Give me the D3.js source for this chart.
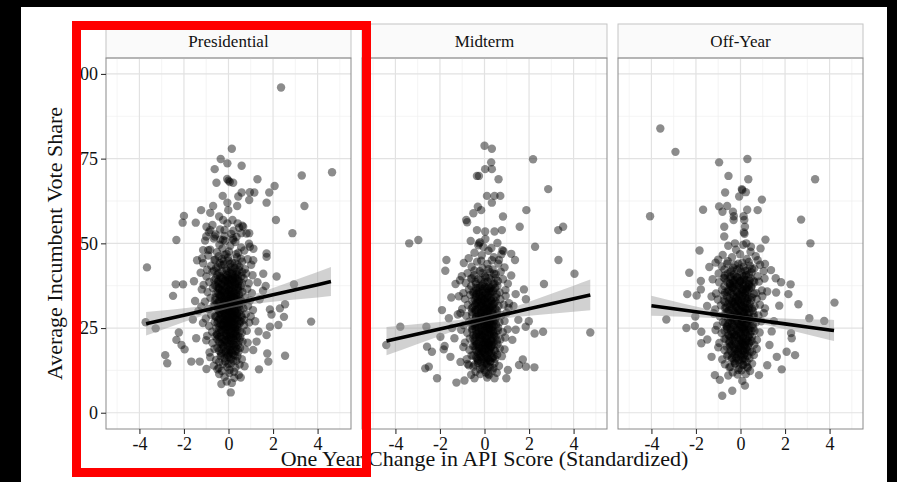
<!DOCTYPE html>
<html>
<head>
<meta charset="utf-8">
<script src="https://cdnjs.cloudflare.com/ajax/libs/d3/7.8.5/d3.min.js"></script>
<style>
body { margin: 0; background: #000; }
svg { display: block; }
text { font-family: "Liberation Serif", "Times New Roman", serif; fill: #111; }
</style>
</head>
<body>
<svg class="scene"></svg>
<script>

//
// data
//

var facets = ["Presidential", "Midterm", "Off-Year"];
var xTicks = [-4, -2, 0, 2, 4];
var xMinor = [-5, -3, -1, 1, 3, 5];
var yTicks = [0, 25, 50, 75, 100];
var yMinor = [12.5, 37.5, 62.5, 87.5];
var xTitle = "One Year Change in API Score (Standardized)";
var yTitle = "Average Incumbent Vote Share";

// [change in API, vote share]
var presPoints = [
    [2.36,96.0],[0.15,77.9],[-0.35,74.9],[-0.05,73.6],[0.59,72.9],[-0.62,71.9],[3.29,70.0],[4.65,71.0],[0.0,68.5],[-0.06,69.0],
    [0.06,68.1],[-0.54,67.9],[0.21,67.9],[1.3,68.9],[2.07,66.9],[1.83,65.0],[0.59,65.0],[0.96,65.1],[1.16,65.0],[0.93,62.8],
    [0.44,63.8],[-0.26,64.0],[1.71,62.0],[3.41,61.0],[-0.05,62.0],[0.39,61.0],[-1.23,59.8],[-0.69,61.0],[-0.82,59.0],[-0.01,59.8],
    [-2.0,58.1],[-0.42,57.9],[-0.24,56.9],[0.18,56.9],[2.13,56.9],[-2.06,56.1],[-1.47,56.1],[-0.99,54.9],[0.41,55.9],[0.66,54.9],
    [-0.18,53.9],[0.57,53.0],[0.93,53.0],[-0.82,53.9],[2.87,53.0],[-1.0,52.0],[-2.34,51.0],[-0.62,52.0],[-0.24,51.0],[0.21,51.0],
    [0.96,49.0],[-1.14,48.0],[-0.91,48.0],[1.71,47.0],[1.71,46.0],[-1.41,45.0],[1.11,45.0],[-3.66,42.9],[-1.14,44.1],[2.16,40.2],
    [1.56,41.0],[-2.37,37.9],[-2.04,37.9],[-2.49,34.5],[2.94,37.9],[1.67,37.4],[-3.72,26.7],[-3.27,24.9],[3.71,26.9],[-2.23,23.7],
    [-2.34,21.5],[-2.11,20.0],[-1.97,18.7],[-2.84,17.0],[-2.75,14.6],[-1.67,15.1],[-1.29,15.1],[-0.99,12.9],[2.54,16.8],[1.79,15.1],
    [1.74,17.5],[1.37,12.8],[0.55,10.4],[-0.32,8.5],[0.1,6.0],[2.31,30.8],[2.54,32.0],[2.49,28.3],[2.24,25.9],[1.86,25.4],
    [1.71,22.9],[1.93,29.0],[1.86,30.5],[1.26,21.0],[1.11,18.5],[1.4,33.5],[1.2,27.0],[1.35,24.0],[-1.5,33.0],[-1.6,27.5],
    [-1.45,22.0],[1.55,36.0],[1.3,38.5],[-1.55,38.8],[-1.35,30.0],
    [-0.72,55.4],[-0.38,54.1],[-0.05,55.9],[0.22,53.7],[0.48,54.6],[0.81,52.9],[-0.58,52.6],[-0.18,52.2],[0.12,52.8],[0.36,51.9],
    [-0.88,53.3],[0.62,55.2],[-1.05,50.8],[-0.66,51.4],[-0.41,49.6],[-0.15,50.7],[0.08,49.3],[0.31,50.4],[0.57,48.8],[0.92,49.9],
    [-0.82,48.1],[-0.52,47.4],[-0.27,48.5],[0.02,47.6],[0.19,51.5],[0.44,47.2],[0.71,47.9],[-0.09,46.9],[1.12,48.4],[-0.36,51.1],
    [-1.18,45.6],[-0.91,46.4],[-0.63,45.1],[-0.44,46.2],[-0.22,44.7],[-0.02,45.8],[0.16,44.3],[0.38,45.9],[0.61,44.6],[0.86,45.3],
    [-0.78,43.4],[-0.55,42.8],[-0.31,43.6],[-0.11,42.5],[0.07,43.9],[0.27,42.7],[0.49,43.1],[0.74,42.4],[1.02,43.7],[-0.96,42.2],
    [-0.18,46.6],[0.33,46.8],[0.12,42.1],[-0.4,44.1],
    [-1.25,41.3],[-0.99,40.2],[-0.72,41.6],[-0.5,40.7],[-0.3,41.8],[-0.13,40.1],[0.04,41.4],[0.21,40.5],[0.39,41.7],[0.58,40.3],
    [0.79,41.1],[1.08,40.6],[-0.86,38.6],[-0.64,39.2],[-0.43,38.1],[-0.24,39.5],[-0.06,38.4],[0.13,39.3],[0.3,37.9],[0.47,38.8],
    [0.68,39.6],[0.91,38.2],[-1.12,37.7],[-0.54,37.3],[-0.17,37.6],[0.06,37.1],[0.24,38.6],[0.55,37.4],[-0.35,39.9],[0.36,40.9],
    [-0.02,39.8],
    [-1.2,36.4],[-0.94,35.6],[-0.7,36.8],[-0.48,35.2],[-0.28,36.3],[-0.1,35.5],[0.08,36.6],[0.26,35.1],[0.43,36.2],[0.62,35.7],
    [0.84,36.5],[1.05,35.3],[-0.81,33.9],[-0.6,33.2],[-0.39,34.3],[-0.2,33.5],[-0.01,34.6],[0.17,33.3],[0.35,34.4],[0.53,33.6],
    [0.74,34.1],[0.97,33.2],[-1.06,32.8],[-0.5,32.4],[-0.13,32.2],[0.05,32.9],[0.28,32.5],[0.46,32.1],[-0.3,35.9],[0.14,34.9],
    [-0.42,36.9],[0.66,32.6],
    [-1.22,31.4],[-0.9,30.6],[-0.66,31.7],[-0.45,30.2],[-0.25,31.3],[-0.07,30.4],[0.11,31.6],[0.29,30.1],[0.47,31.2],[0.67,30.8],
    [0.88,31.5],[1.1,30.3],[-0.78,28.9],[-0.56,28.3],[-0.35,29.4],[-0.16,28.6],[0.02,29.7],[0.2,28.2],[0.38,29.3],[0.57,28.7],
    [0.78,29.1],[1.0,28.4],[-1.02,27.8],[-0.47,27.3],[-0.1,27.5],[0.09,27.2],[0.31,27.7],[0.5,27.1],[-0.28,30.9],[0.16,30.0],
    [-0.04,28.1],[0.7,27.4],
    [-1.15,26.5],[-0.87,25.6],[-0.62,26.8],[-0.41,25.3],[-0.22,26.4],[-0.05,25.5],[0.13,26.7],[0.31,25.2],[0.49,26.3],[0.7,25.8],
    [0.93,26.6],[-0.74,23.9],[-0.52,23.2],[-0.32,24.4],[-0.13,23.5],[0.04,24.6],[0.22,23.3],[0.4,24.5],[0.6,23.6],[0.82,24.2],
    [-0.96,22.7],[-0.43,22.3],[-0.08,22.5],[0.12,22.1],[0.34,22.8],[0.53,22.2],[-0.25,25.9],[0.19,25.0],[-0.6,22.6],[0.0,26.2],
    [-1.0,21.4],[-0.72,20.6],[-0.5,21.7],[-0.3,20.2],[-0.12,21.3],[0.06,20.4],[0.24,21.5],[0.43,20.1],[0.63,21.0],[0.86,20.7],
    [-0.63,18.9],[-0.42,18.3],[-0.22,19.4],[-0.04,18.6],[0.14,19.6],[0.32,18.2],[0.52,19.1],[0.74,18.7],[-0.85,17.8],[-0.33,17.3],
    [0.02,17.5],[0.22,17.1],[0.44,17.9],[-0.18,20.9],[0.1,18.0],
    [-0.82,16.4],[-0.56,15.6],[-0.35,16.7],[-0.15,15.2],[0.03,16.3],[0.21,15.4],[0.4,16.6],[0.6,15.8],[-0.66,13.9],[-0.44,13.2],
    [-0.24,14.4],[-0.06,13.5],[0.12,14.6],[0.31,13.3],[0.5,14.2],[0.72,13.7],[-0.3,12.3],[0.05,12.6],[0.25,12.1],[-0.5,12.8],
    [-0.42,11.4],[-0.18,10.6],[0.04,11.7],[0.26,10.3],[0.46,11.1],[-0.08,9.2],[0.15,8.8],
    [-0.6,45.2],[-0.3,45.4],[0.0,44.9],[0.28,44.1],[0.55,45.5],[-0.47,43.0],[-0.2,43.8],[0.1,42.9],[0.4,43.7],[-0.65,41.9],
    [-0.08,41.9],[0.19,41.7],[0.47,42.2],[-0.38,40.4],[-0.05,40.6],[0.3,40.0],[0.62,41.5],[-0.57,39.6],[-0.14,39.0],[0.2,39.7],
    [0.42,39.4],[0.01,39.2],[-0.48,38.6],[-0.29,38.0],[0.08,38.1],[0.35,38.4],[0.6,38.3],[-0.62,37.6],[-0.08,37.2],[0.18,37.6],
    [0.44,37.0],[-0.4,36.4],[-0.18,36.0],[0.02,36.2],[0.22,36.4],[0.5,36.0],[-0.56,35.3],[-0.05,35.0],[0.33,35.2],[-0.35,34.6],
    [-0.12,34.1],[0.07,34.3],[0.26,34.0],[0.47,34.7],[-0.58,34.0],[-0.27,33.3],[0.11,33.6],[0.4,33.1],[-0.44,32.9],[-0.2,32.6],
    [0.0,32.1],[0.2,32.4],[0.58,32.8],[-0.6,31.9],[-0.33,31.6],[0.05,31.3],[0.36,31.7],[-0.15,31.0],[0.15,30.7],[-0.5,30.6],
    [0.54,30.4],[-0.25,30.0],[0.0,30.1],[0.3,29.8],[-0.42,29.3],[-0.1,29.0],[0.12,29.2],[0.45,29.5],[-0.6,28.5],[-0.24,28.0],
    [0.06,28.4],[0.27,28.6],[0.6,28.2],[-0.38,27.6],[-0.16,27.1],[0.18,27.0],[0.38,27.4],[-0.5,26.5],[-0.02,26.7],[0.25,26.2],
    [0.56,26.9],[-0.3,25.9],[-0.1,25.2],[0.08,25.6],[0.4,25.4],[-0.55,25.0],[-0.2,24.6],[0.15,24.3],[0.3,24.9],[-0.38,23.7],
    [-0.02,23.9],[0.28,23.5],[0.5,24.0],[-0.5,22.9],[-0.17,22.8],[0.06,23.0],[0.42,22.6],[-0.28,21.8],[0.0,21.6],[0.2,22.0],
    [0.5,21.4],[-0.42,20.9],[-0.06,20.7],[0.32,20.6],[-0.25,19.8],[0.05,19.5],[0.26,19.9],[-0.5,19.2],[0.4,18.8],[-0.12,18.2],
    [0.18,18.5],[-0.32,17.6],[-0.02,17.0],[0.28,16.9],[-0.18,16.1],[0.1,15.8],[-0.42,15.0],[0.35,15.3],[0.0,14.4],
    [-0.44,41.2],[-0.12,40.8],[0.16,41.0],[0.44,40.6],[-0.3,39.7],[0.05,39.5],[0.33,39.8],[-0.45,38.9],[-0.15,38.7],[0.18,38.9],
    [0.42,38.0],[-0.32,37.8],[-0.02,37.9],[0.28,37.3],[-0.45,36.7],[-0.12,36.8],[0.14,36.0],[0.38,36.6],[-0.28,35.5],[0.05,35.7],
    [0.24,35.5],[-0.42,34.9],[-0.18,34.6],[0.1,34.8],[0.36,34.1],[-0.3,33.9],[-0.03,33.5],[0.22,33.9],[0.44,33.4],[-0.4,32.8],
    [-0.1,32.9],[0.14,32.6],[0.32,32.2],[-0.24,32.0],[0.04,31.7],[0.25,31.4],[-0.44,31.2],[-0.1,30.6],[0.36,30.7],[-0.3,30.4],
    [0.08,30.2],[0.2,29.4],[-0.2,29.6],[-0.4,29.9],[0.02,29.1],[0.38,28.9],[-0.32,28.6],[-0.08,28.4],[0.16,28.0],[0.42,28.1],
    [-0.42,27.8],[-0.22,27.5],[0.02,27.2],[0.25,27.6],[-0.1,26.5],[0.12,26.4],[0.38,26.0],[-0.36,26.2],[-0.2,25.5],[0.0,25.3],
    [0.22,25.7],[-0.42,24.4],[-0.08,24.5],[0.32,24.1],[-0.28,23.9],[0.1,23.7],[-0.1,23.0],[0.22,22.7],[-0.35,22.4],[0.04,22.3],
    [0.36,21.9],[-0.16,21.5],[0.12,21.2],[-0.38,20.5],[0.2,20.3],[-0.04,19.9],[0.34,19.4],[-0.3,18.8],[0.06,18.6],[-0.14,17.8],
    [0.16,17.6],[-0.06,16.5]
];

var midPoints = [
    [0.0,78.8],[0.33,77.9],[0.3,73.9],[0.03,71.9],[0.33,71.9],[-0.34,69.9],[-0.25,69.9],[0.63,68.9],[2.18,74.8],[2.86,66.0],
    [0.11,64.0],[0.45,64.0],[0.71,64.0],[0.33,62.0],[1.88,59.8],[-0.3,60.8],[-0.15,59.8],[-0.5,58.9],[0.83,57.9],[-0.82,56.9],
    [-0.78,56.2],[1.58,54.9],[3.31,53.9],[3.53,54.9],[-3.38,50.0],[-2.97,51.0],[-0.34,53.9],[0.78,53.9],[0.03,53.5],[0.45,53.5],
    [-1.71,45.1],[0.65,45.1],[1.37,45.1],[3.32,45.1],[2.27,49.0],[1.2,46.9],[0.8,48.0],[0.85,47.7],[-0.25,50.0],[-0.2,50.3],
    [-1.76,41.9],[4.04,41.0],[2.67,38.0],[1.77,36.4],[1.4,35.0],[1.86,33.5],[-1.49,34.0],[-1.91,30.3],[-3.78,25.4],[-4.41,20.0],
    [-2.61,25.4],[4.75,23.7],[2.63,23.9],[2.25,23.4],[1.85,25.4],[1.99,27.0],[1.52,27.4],[-1.6,27.9],[-1.98,22.4],[-1.46,25.0],
    [-2.58,19.5],[-2.36,18.0],[-1.83,18.7],[-1.79,19.7],[-1.53,16.5],[-2.66,13.1],[-2.5,13.6],[-2.13,10.2],[-1.26,8.9],[-1.08,15.0],
    [-0.7,14.0],[-0.45,10.2],[0.2,11.1],[0.45,10.2],[0.98,10.2],[1.05,12.6],[1.55,14.1],[1.86,13.6],[2.24,13.4],[1.72,15.7],
    [1.1,32.3],[1.3,31.5],[-1.3,38.0],[-1.2,29.0],[1.25,21.5],[1.4,24.5],[-1.35,22.0],[1.2,40.5],[-0.9,9.5],
    [-0.62,50.7],[-0.28,49.4],[0.04,51.3],[0.31,48.6],[0.58,50.1],[-0.45,47.2],[-0.12,46.5],[0.18,47.8],[0.42,45.9],[-0.71,45.6],
    [0.76,46.8],[-0.05,48.9],
    [-0.93,44.2],[-0.58,43.1],[-0.33,44.6],[-0.09,42.7],[0.13,43.9],[0.37,42.3],[0.62,44.0],[0.9,42.9],[-0.76,41.2],[-0.46,40.6],
    [-0.21,41.8],[0.02,40.4],[0.24,41.5],[0.5,40.9],[0.73,41.6],[-1.02,40.3],[-0.15,44.9],[0.33,45.0],
    [-1.1,39.1],[-0.84,38.3],[-0.6,39.6],[-0.38,38.0],[-0.17,39.3],[0.0,38.5],[0.2,39.8],[0.39,37.9],[0.6,38.9],[0.83,39.4],
    [1.05,38.1],[-0.7,36.4],[-0.49,35.7],[-0.27,36.9],[-0.07,35.4],[0.11,36.6],[0.29,35.8],[0.48,36.8],[0.68,35.5],[0.94,36.2],
    [-0.95,35.3],[-0.36,35.1],[0.19,37.3],[-0.12,37.5],
    [-1.15,34.4],[-0.88,33.6],[-0.64,34.8],[-0.43,33.2],[-0.23,34.3],[-0.05,33.4],[0.14,34.7],[0.32,33.0],[0.51,34.1],[0.71,33.5],
    [0.95,34.5],[-0.75,31.8],[-0.53,31.1],[-0.32,32.3],[-0.13,31.4],[0.06,32.5],[0.24,31.2],[0.43,32.2],[0.63,31.5],[0.86,31.9],
    [-1.0,30.6],[-0.41,30.3],[-0.03,30.5],[0.17,30.1],[0.37,30.8],[0.56,30.2],[-0.2,32.9],[0.27,33.8],[1.08,30.9],
    [-1.08,29.4],[-0.82,28.6],[-0.57,29.7],[-0.37,28.2],[-0.18,29.3],[0.01,28.4],[0.19,29.6],[0.37,28.1],[0.56,29.2],[0.76,28.8],
    [0.99,29.5],[-0.69,26.9],[-0.47,26.3],[-0.27,27.4],[-0.09,26.6],[0.1,27.7],[0.28,26.2],[0.47,27.3],[0.67,26.7],[0.9,27.1],
    [-0.93,25.8],[-0.36,25.3],[0.02,25.5],[0.21,25.2],[0.41,25.7],[0.61,25.1],[-0.13,28.9],[0.33,27.9],[-0.55,25.6],[0.13,26.0],
    [-0.01,27.0],
    [-1.05,24.5],[-0.78,23.6],[-0.54,24.8],[-0.33,23.3],[-0.14,24.4],[0.04,23.5],[0.22,24.7],[0.41,23.2],[0.6,24.3],[0.82,23.8],
    [1.04,24.6],[-0.66,21.9],[-0.44,21.2],[-0.24,22.4],[-0.06,21.5],[0.13,22.6],[0.31,21.3],[0.5,22.5],[0.71,21.6],[0.93,22.2],
    [-0.88,20.7],[-0.34,20.3],[0.0,20.5],[0.19,20.1],[0.39,20.8],[0.58,20.2],[-0.17,23.0],[0.26,23.9],[-0.5,22.9],[0.08,21.0],
    [-0.95,19.4],[-0.68,18.6],[-0.45,19.7],[-0.25,18.2],[-0.06,19.3],[0.12,18.4],[0.3,19.6],[0.49,18.1],[0.69,19.0],[0.9,18.7],
    [-0.58,16.9],[-0.37,16.3],[-0.17,17.4],[0.01,16.6],[0.19,17.6],[0.37,16.2],[0.57,17.1],[0.78,16.7],[-0.8,15.8],[-0.27,15.3],
    [0.07,15.5],[0.27,15.1],[0.47,15.9],[-0.12,18.9],
    [-0.76,14.4],[-0.5,13.6],[-0.3,14.7],[-0.1,13.2],[0.08,14.3],[0.26,13.4],[0.45,14.6],[0.65,13.8],[-0.4,12.1],[-0.19,11.4],
    [0.0,12.6],[0.17,11.5],[0.36,12.4],[0.55,11.8],[-0.6,11.2],[0.12,10.4],
    [-0.45,42.0],[-0.1,41.2],[0.18,42.4],[0.42,41.0],[-0.55,39.7],[-0.28,39.5],[0.05,39.9],[0.3,39.2],[0.5,39.8],[-0.4,38.6],
    [-0.06,38.0],[0.15,38.7],[0.45,38.1],[-0.6,37.4],[-0.2,37.0],[0.04,37.2],[0.28,36.9],[0.58,37.5],[-0.36,36.2],[-0.1,36.0],
    [0.2,36.1],[0.4,35.9],[-0.5,35.3],[-0.22,34.9],[0.02,34.8],[0.22,35.2],[0.55,35.0],[-0.38,34.1],[-0.12,33.8],[0.1,33.9],
    [0.4,33.6],[-0.55,33.0],[-0.28,32.7],[0.0,32.9],[0.18,32.6],[0.5,32.8],[-0.42,31.8],[-0.17,31.6],[0.08,31.9],[0.32,31.4],
    [-0.58,30.8],[-0.3,30.6],[-0.05,30.9],[0.22,30.4],[0.5,30.6],[-0.4,29.7],[-0.14,29.5],[0.12,29.9],[0.38,29.3],[-0.55,28.8],
    [-0.25,28.5],[0.02,28.7],[0.25,28.2],[0.55,28.4],[-0.4,27.6],[-0.13,27.3],[0.16,27.5],[0.4,27.0],[-0.58,26.6],[-0.3,26.4],
    [-0.02,26.1],[0.22,26.6],[0.52,26.0],[-0.43,25.4],[-0.17,25.1],[0.1,25.0],[0.35,25.3],[-0.55,24.3],[-0.24,24.0],[0.0,24.2],
    [0.3,24.4],[0.5,23.7],[-0.38,23.0],[-0.1,22.8],[0.2,23.1],[0.42,22.7],[-0.5,22.0],[-0.2,21.7],[0.06,21.9],[0.3,21.6],
    [0.56,21.3],[-0.36,20.8],[-0.08,20.4],[0.18,20.7],[0.42,20.2],[-0.52,19.7],[-0.25,19.5],[0.03,19.8],[0.28,19.3],[-0.4,18.6],
    [-0.1,18.3],[0.2,18.5],[0.45,18.4],[-0.28,17.5],[0.02,17.2],[0.3,17.6],[-0.5,16.9],[-0.15,16.4],[0.14,16.1],[0.42,16.7],
    [-0.3,15.4],[0.0,14.8],[0.25,15.2],[-0.45,14.2],[-0.1,13.8],[0.18,13.5],[0.4,13.2],[-0.2,12.8],[0.05,11.9],
    [-0.38,36.8],[-0.08,36.5],[0.24,36.7],[-0.25,35.6],[0.06,35.4],[0.36,35.7],[-0.4,34.6],[-0.12,34.4],[0.18,34.2],[-0.28,33.5],
    [0.02,33.3],[0.3,33.2],[-0.38,32.4],[-0.1,32.2],[0.14,32.1],[0.38,32.0],[-0.24,31.3],[0.0,31.1],[0.22,31.0],[-0.4,30.4],
    [-0.14,30.2],[0.1,30.5],[0.34,30.0],[-0.28,29.2],[-0.02,29.3],[0.24,29.0],[-0.38,28.2],[-0.12,28.0],[0.12,28.3],[0.38,27.8],
    [-0.25,27.0],[0.0,27.4],[0.22,27.1],[-0.4,26.2],[-0.12,26.0],[0.1,26.4],[0.34,26.0],[-0.28,25.2],[-0.02,25.0],[0.22,24.9],
    [-0.38,24.3],[-0.1,24.0],[0.14,23.8],[0.38,24.0],[-0.25,23.1],[0.02,22.8],[0.26,22.9],[-0.4,22.2],[-0.12,22.0],[0.12,21.8],
    [0.36,21.9],[-0.25,21.0],[0.0,20.9],[0.22,20.6],[-0.38,20.0],[-0.1,19.8],[0.16,19.6],[0.34,19.9],[-0.22,19.0],[0.04,18.8],
    [0.26,18.7],[-0.34,18.0],[-0.06,17.8],[0.18,17.9],[-0.2,16.8],[0.08,16.9],[0.32,16.3],[-0.32,15.9],[-0.04,15.9],[0.2,15.6],
    [-0.14,14.9],[0.1,14.6]
];

var offPoints = [
    [-3.6,83.9],[-2.92,77.0],[-0.96,73.9],[0.31,74.9],[-0.54,69.9],[0.35,68.9],[3.35,68.9],[-0.69,65.0],[0.06,66.0],[0.24,65.1],
    [-0.06,63.8],[0.08,65.7],[0.96,62.9],[-1.68,59.9],[-0.96,60.9],[-0.6,61.0],[-0.81,59.3],[-0.34,59.3],[0.3,59.9],[0.77,59.8],
    [-0.3,58.0],[0.14,58.0],[-4.06,58.0],[2.72,57.0],[-0.73,54.9],[0.17,56.9],[-0.31,56.9],[0.2,54.9],[0.15,53.2],[0.18,52.8],
    [-0.73,52.0],[1.12,51.1],[3.14,50.0],[-1.84,47.9],[-0.25,50.0],[0.47,49.0],[0.26,50.0],[-2.3,41.3],[-1.78,38.9],[-2.39,35.0],
    [-3.33,27.5],[-2.43,25.0],[-2.05,25.6],[-1.76,23.9],[-1.76,20.5],[-1.49,21.6],[-2.03,28.4],[-1.15,11.1],[-0.82,5.0],[-0.37,6.5],
    [0.08,9.4],[0.2,8.0],[-0.93,9.7],[0.83,11.1],[1.85,12.8],[2.45,17.0],[2.07,18.0],[1.63,16.5],[2.3,22.0],[2.27,23.5],
    [2.6,32.0],[3.09,27.9],[3.76,27.1],[4.22,32.5],[2.25,37.9],[2.15,35.0],[1.82,38.5],[1.74,31.6],[1.37,42.1],[1.1,43.9],
    [0.77,45.0],[1.58,39.7],[-1.78,36.4],[-1.97,34.6],[1.5,27.0],[1.4,24.0],[1.3,20.0],[-1.5,31.5],[-1.4,43.0],[1.2,14.0],
    [-1.3,16.5],[1.6,35.5],
    [-0.55,49.3],[-0.2,48.1],[0.12,49.6],[0.45,47.5],[-0.8,46.6],[-0.38,45.9],[-0.02,46.8],[0.28,45.4],[0.68,46.2],[0.9,48.5],
    [-1.0,45.2],
    [-1.12,44.3],[-0.84,43.2],[-0.57,44.7],[-0.33,42.8],[-0.1,44.0],[0.14,43.1],[0.37,44.5],[0.62,42.6],[0.88,43.7],[-0.98,41.1],
    [-0.7,40.5],[-0.45,41.6],[-0.22,40.2],[0.02,41.7],[0.25,40.7],[0.5,41.4],[0.77,40.3],[1.04,41.8],[-0.15,42.3],[0.3,42.0],
    [-1.25,39.4],[-0.96,38.5],[-0.7,39.7],[-0.47,38.2],[-0.25,39.2],[-0.05,38.3],[0.16,39.5],[0.37,38.0],[0.59,39.0],[0.83,38.7],
    [1.08,39.6],[-0.83,36.3],[-0.59,35.6],[-0.36,36.8],[-0.15,35.4],[0.05,36.5],[0.26,35.9],[0.48,36.9],[0.71,35.3],[0.96,36.1],
    [-1.1,35.2],[-0.46,37.4],[0.13,37.2],[-0.26,37.9],[1.2,35.8],
    [-1.3,34.3],[-1.02,33.4],[-0.76,34.7],[-0.52,33.1],[-0.3,34.2],[-0.1,33.3],[0.1,34.6],[0.3,33.0],[0.51,34.0],[0.73,33.6],
    [0.98,34.4],[-0.88,31.7],[-0.64,31.0],[-0.41,32.2],[-0.2,31.3],[0.0,32.4],[0.2,31.1],[0.41,32.1],[0.63,31.4],[0.87,31.9],
    [-1.14,30.5],[-0.52,30.2],[-0.08,30.4],[0.12,30.0],[0.33,30.7],[0.55,30.1],[-0.25,32.8],[0.22,33.8],[1.1,30.8],[-0.7,32.6],
    [0.04,31.6],
    [-1.2,29.3],[-0.93,28.5],[-0.67,29.6],[-0.44,28.1],[-0.22,29.2],[-0.02,28.3],[0.18,29.5],[0.38,28.0],[0.59,29.1],[0.8,28.7],
    [1.05,29.4],[-0.79,26.8],[-0.55,26.2],[-0.33,27.3],[-0.13,26.5],[0.07,27.6],[0.27,26.1],[0.47,27.2],[0.69,26.6],[0.93,27.0],
    [-1.05,25.7],[-0.42,25.2],[-0.04,25.4],[0.16,25.1],[0.36,25.6],[0.57,25.0],[-0.18,28.8],[0.28,27.8],[-0.62,25.5],[0.02,26.9],
    [-1.12,24.4],[-0.85,23.5],[-0.6,24.7],[-0.38,23.2],[-0.17,24.3],[0.02,23.4],[0.22,24.6],[0.42,23.1],[0.63,24.2],[0.86,23.7],
    [-0.72,21.8],[-0.49,21.1],[-0.28,22.3],[-0.08,21.4],[0.11,22.5],[0.31,21.2],[0.52,22.4],[0.74,21.5],[-0.95,20.6],[-0.37,20.2],
    [0.0,20.4],[0.2,20.0],[0.41,20.7],[0.62,20.1],[-0.2,22.9],[0.25,23.8],[-0.52,22.8],[0.07,21.0],
    [-1.0,19.3],[-0.72,18.5],[-0.48,19.6],[-0.27,18.1],[-0.07,19.2],[0.12,18.3],[0.32,19.5],[0.52,18.0],[0.73,18.9],[-0.6,16.8],
    [-0.38,16.2],[-0.18,17.3],[0.01,16.5],[0.2,17.5],[0.4,16.1],[0.6,17.0],[-0.82,15.7],[-0.28,15.2],[0.07,15.4],[0.28,15.0],
    [-0.1,18.8],
    [-0.7,14.3],[-0.45,13.5],[-0.24,14.6],[-0.05,13.1],[0.14,14.2],[0.33,13.3],[0.52,14.5],[-0.35,11.9],[-0.13,11.3],[0.05,12.5],
    [0.24,11.4],[0.43,12.3],[-0.55,11.0],
    [-0.6,44.0],[-0.25,43.6],[0.08,44.3],[0.42,43.4],[-0.72,42.3],[-0.4,42.0],[-0.05,42.6],[0.2,41.9],[0.52,42.4],[-0.58,41.0],
    [-0.3,40.8],[0.08,40.5],[0.38,40.9],[-0.75,39.8],[-0.45,39.6],[-0.15,39.9],[0.1,39.3],[0.45,39.7],[-0.6,38.6],[-0.32,38.4],
    [0.0,38.8],[0.25,38.2],[0.62,38.5],[-0.72,37.4],[-0.38,37.1],[-0.08,37.6],[0.3,37.0],[0.5,37.3],[-0.55,36.3],[-0.22,36.0],
    [0.12,36.2],[0.38,36.5],[-0.7,35.4],[-0.42,35.2],[-0.05,35.0],[0.2,35.3],[0.6,35.1],[-0.6,34.3],[-0.18,34.0],[0.05,34.4],
    [0.4,34.2],[-0.75,33.1],[-0.38,32.9],[-0.12,33.0],[0.15,32.7],[0.48,33.2],[-0.55,32.0],[-0.3,31.8],[0.02,31.9],[0.3,32.2],
    [-0.7,30.9],[-0.4,30.7],[-0.15,30.9],[0.22,30.6],[0.52,30.8],[-0.58,29.8],[-0.26,29.6],[0.06,29.9],[0.4,29.5],[-0.72,28.6],
    [-0.45,28.4],[-0.1,28.7],[0.2,28.4],[0.6,28.3],[-0.55,27.5],[-0.25,27.2],[0.12,27.4],[0.4,27.6],[-0.7,26.5],[-0.38,26.3],
    [-0.05,26.0],[0.25,26.4],[0.55,26.1],[-0.6,25.3],[-0.24,25.0],[0.08,25.2],[0.42,24.9],[-0.72,24.2],[-0.42,24.0],[-0.1,24.3],
    [0.18,23.9],[0.5,24.1],[-0.55,23.1],[-0.28,22.7],[0.02,22.9],[0.35,22.6],[-0.66,21.8],[-0.35,21.5],[-0.02,21.9],[0.26,21.6],
    [0.5,21.2],[-0.5,20.6],[-0.2,20.3],[0.1,20.6],[0.38,20.4],[-0.62,19.5],[-0.3,19.2],[0.0,19.6],[0.25,19.0],[-0.45,18.3],
    [-0.12,18.0],[0.18,18.3],[0.42,18.1],[-0.55,17.2],[-0.25,16.9],[0.05,17.2],[0.32,16.8],[-0.4,15.8],[-0.08,15.6],[0.2,15.9],
    [-0.25,14.5],[0.1,14.1],[-0.5,13.4],[0.3,13.6],[-0.1,12.6],
    [-0.45,40.2],[-0.15,40.0],[0.16,40.3],[0.4,39.0],[-0.35,39.1],[-0.02,38.9],[0.26,39.1],[-0.48,38.0],[-0.18,37.8],[0.1,38.0],
    [0.38,37.6],[-0.32,36.9],[-0.02,36.8],[0.24,36.6],[-0.5,36.0],[-0.16,35.7],[0.08,35.8],[0.34,35.5],[-0.32,34.8],[-0.04,34.7],
    [0.22,34.6],[-0.46,33.8],[-0.2,33.6],[0.06,33.5],[0.32,33.6],[-0.34,32.6],[-0.06,32.5],[0.2,32.3],[-0.48,31.4],[-0.2,31.2],
    [0.1,31.2],[0.4,31.0],[-0.32,30.3],[-0.04,30.2],[0.24,30.1],[-0.45,29.3],[-0.15,29.2],[0.14,29.3],[0.34,28.8],[-0.3,28.2],
    [0.0,28.0],[0.26,27.9],[-0.45,27.2],[-0.15,27.0],[0.08,26.8],[0.34,27.0],[-0.3,25.9],[0.02,25.8],[0.2,25.6],[-0.48,25.0],
    [-0.15,24.7],[0.12,24.6],[0.36,24.4],[-0.32,23.7],[-0.04,23.5],[0.22,23.3],[-0.45,22.4],[-0.15,22.2],[0.12,22.0],[0.38,22.1],
    [-0.28,21.1],[0.04,21.2],[0.24,20.8],[-0.42,20.0],[-0.1,19.9],[0.16,19.7],[-0.25,18.7],[0.06,18.5],[0.3,18.4],[-0.38,17.6],
    [-0.1,17.4],[0.16,17.0],[-0.2,16.2],[0.1,16.0],[-0.05,14.9]
];

// linear fit with 95% band: [x, fit, lower, upper]
var presSmooth = [[-3.7,26.25,22.76,29.74],[-3,27.3,24.41,30.19],[-2,28.8,26.75,30.85],[-1,30.3,28.95,31.65],[0,31.8,30.8,32.8],
    [1,33.3,31.95,34.65],[2,34.8,32.75,36.85],[3,36.3,33.41,39.19],[4,37.8,34.04,41.56],[4.6,38.7,34.42,42.98]];
var midSmooth = [[-4.4,21.14,16.94,25.34],[-3,23.23,20.29,26.17],[-2,24.72,22.65,26.79],[-1,26.21,24.91,27.51],[0,27.7,26.8,28.6],
    [1,29.19,27.89,30.49],[2,30.68,28.61,32.75],[3,32.17,29.23,35.11],[4,33.66,29.82,37.5],[4.75,34.78,30.26,39.3]];
var offSmooth = [[-4,31.56,28.59,34.53],[-3,30.67,28.4,32.94],[-2,29.78,28.18,31.38],[-1,28.89,27.89,29.89],[0,28.0,27.3,28.7],
    [1,27.11,26.11,28.11],[2,26.22,24.62,27.82],[3,25.33,23.06,27.6],[4,24.44,21.47,27.41],[4.2,24.26,21.15,27.37]];

var panels = [
    { name: facets[0], points: presPoints, smooth: presSmooth },
    { name: facets[1], points: midPoints, smooth: midSmooth },
    { name: facets[2], points: offPoints, smooth: offSmooth }
];

//
// scene
//

var width = 897,
    height = 482;

var scene = d3.select(".scene")
    .attr("width", width)
    .attr("height", height);

scene.append("rect")
    .attr("width", width)
    .attr("height", height)
    .attr("fill", "#000");

scene.append("rect")
    .attr("x", 21)
    .attr("y", 7)
    .attr("width", 866)
    .attr("height", height - 7)
    .attr("fill", "#fff");

var stripTop = 24,
    panelTop = 58,
    panelBottom = 429;

var band = d3.scaleBand()
    .domain(facets)
    .range([106, 863])
    .paddingInner(0.043);

var x = d3.scaleLinear()
    .domain([-5.5, 5.5])
    .range([0, band.bandwidth()]);

var y = d3.scaleLinear()
    .domain([-4.8, 104.7])
    .range([panelBottom, panelTop]);

var fmt = function (d) { return String(d); };

//
// panels
//

var panel = scene.selectAll("g.panel")
    .data(panels)
    .enter().append("g")
    .attr("class", "panel")
    .attr("transform", function (d) { return "translate(" + band(d.name) + ",0)"; });

// strip
panel.append("rect")
    .attr("y", stripTop)
    .attr("width", band.bandwidth())
    .attr("height", panelTop - stripTop)
    .attr("fill", "#fafafa")
    .attr("stroke", "#c4c4c4")
    .attr("stroke-width", 1);

panel.append("text")
    .attr("x", band.bandwidth() / 2)
    .attr("y", 46.5)
    .attr("text-anchor", "middle")
    .style("font-size", "17px")
    .text(function (d) { return d.name; });

// grid
panel.selectAll("line.xminor")
    .data(xMinor)
    .enter().append("line")
    .attr("x1", x).attr("x2", x)
    .attr("y1", panelTop).attr("y2", panelBottom)
    .attr("stroke", "#efefef").attr("stroke-width", 0.7);
panel.selectAll("line.yminor")
    .data(yMinor)
    .enter().append("line")
    .attr("x1", 0).attr("x2", band.bandwidth())
    .attr("y1", y).attr("y2", y)
    .attr("stroke", "#efefef").attr("stroke-width", 0.7);
panel.selectAll("line.xmajor")
    .data(xTicks)
    .enter().append("line")
    .attr("x1", x).attr("x2", x)
    .attr("y1", panelTop).attr("y2", panelBottom)
    .attr("stroke", "#e2e2e2").attr("stroke-width", 1.2);
panel.selectAll("line.ymajor")
    .data(yTicks)
    .enter().append("line")
    .attr("x1", 0).attr("x2", band.bandwidth())
    .attr("y1", y).attr("y2", y)
    .attr("stroke", "#e2e2e2").attr("stroke-width", 1.2);

// points
panel.append("g")
    .selectAll("circle")
    .data(function (d) { return d.points; })
    .enter().append("circle")
    .attr("cx", function (d) { return x(d[0]); })
    .attr("cy", function (d) { return y(d[1]); })
    .attr("r", 4.2)
    .attr("fill", "#000")
    .attr("fill-opacity", 0.45);

// smooth band + line
var area = d3.area()
    .x(function (d) { return x(d[0]); })
    .y0(function (d) { return y(d[2]); })
    .y1(function (d) { return y(d[3]); })
    .curve(d3.curveMonotoneX);

var line = d3.line()
    .x(function (d) { return x(d[0]); })
    .y(function (d) { return y(d[1]); });

panel.append("path")
    .attr("d", function (d) { return area(d.smooth); })
    .attr("fill", "#999")
    .attr("fill-opacity", 0.45);

panel.append("path")
    .attr("d", function (d) { return line(d.smooth); })
    .attr("fill", "none")
    .attr("stroke", "#000")
    .attr("stroke-width", 3.6);

// border
panel.append("rect")
    .attr("y", panelTop)
    .attr("width", band.bandwidth())
    .attr("height", panelBottom - panelTop)
    .attr("fill", "none")
    .attr("stroke", "#8a8a8a")
    .attr("stroke-width", 1);

// x axis
panel.append("g")
    .attr("transform", "translate(0," + panelBottom + ")")
    .each(function () {
        d3.select(this).call(d3.axisBottom(x)
            .tickValues(xTicks)
            .tickSize(5)
            .tickPadding(3.5)
            .tickFormat(fmt));
    });

// y axis, first panel only
scene.append("g")
    .attr("transform", "translate(" + band(facets[0]) + ",0)")
    .call(d3.axisLeft(y)
        .tickValues(yTicks)
        .tickSize(5)
        .tickPadding(3)
        .tickFormat(fmt));

scene.selectAll(".domain").remove();
scene.selectAll(".tick line").attr("stroke", "#333").attr("stroke-width", 1.1);
scene.selectAll(".tick text")
    .attr("fill", "#222")
    .style("font-family", "'Liberation Serif', serif")
    .style("font-size", "18px");

//
// titles
//

scene.append("text")
    .attr("x", (band.range()[0] + band.range()[1]) / 2)
    .attr("y", 466)
    .attr("text-anchor", "middle")
    .style("font-size", "22px")
    .text(xTitle);

scene.append("text")
    .attr("transform", "translate(62," + (panelTop + panelBottom) / 2 + ") rotate(-90)")
    .attr("text-anchor", "middle")
    .style("font-size", "22px")
    .text(yTitle);

//
// highlight box
//

scene.append("rect")
    .attr("x", 76.5)
    .attr("y", 25.5)
    .attr("width", 290)
    .attr("height", 447)
    .attr("fill", "none")
    .attr("stroke", "#ff0000")
    .attr("stroke-width", 9);

</script>
</body>
</html>
